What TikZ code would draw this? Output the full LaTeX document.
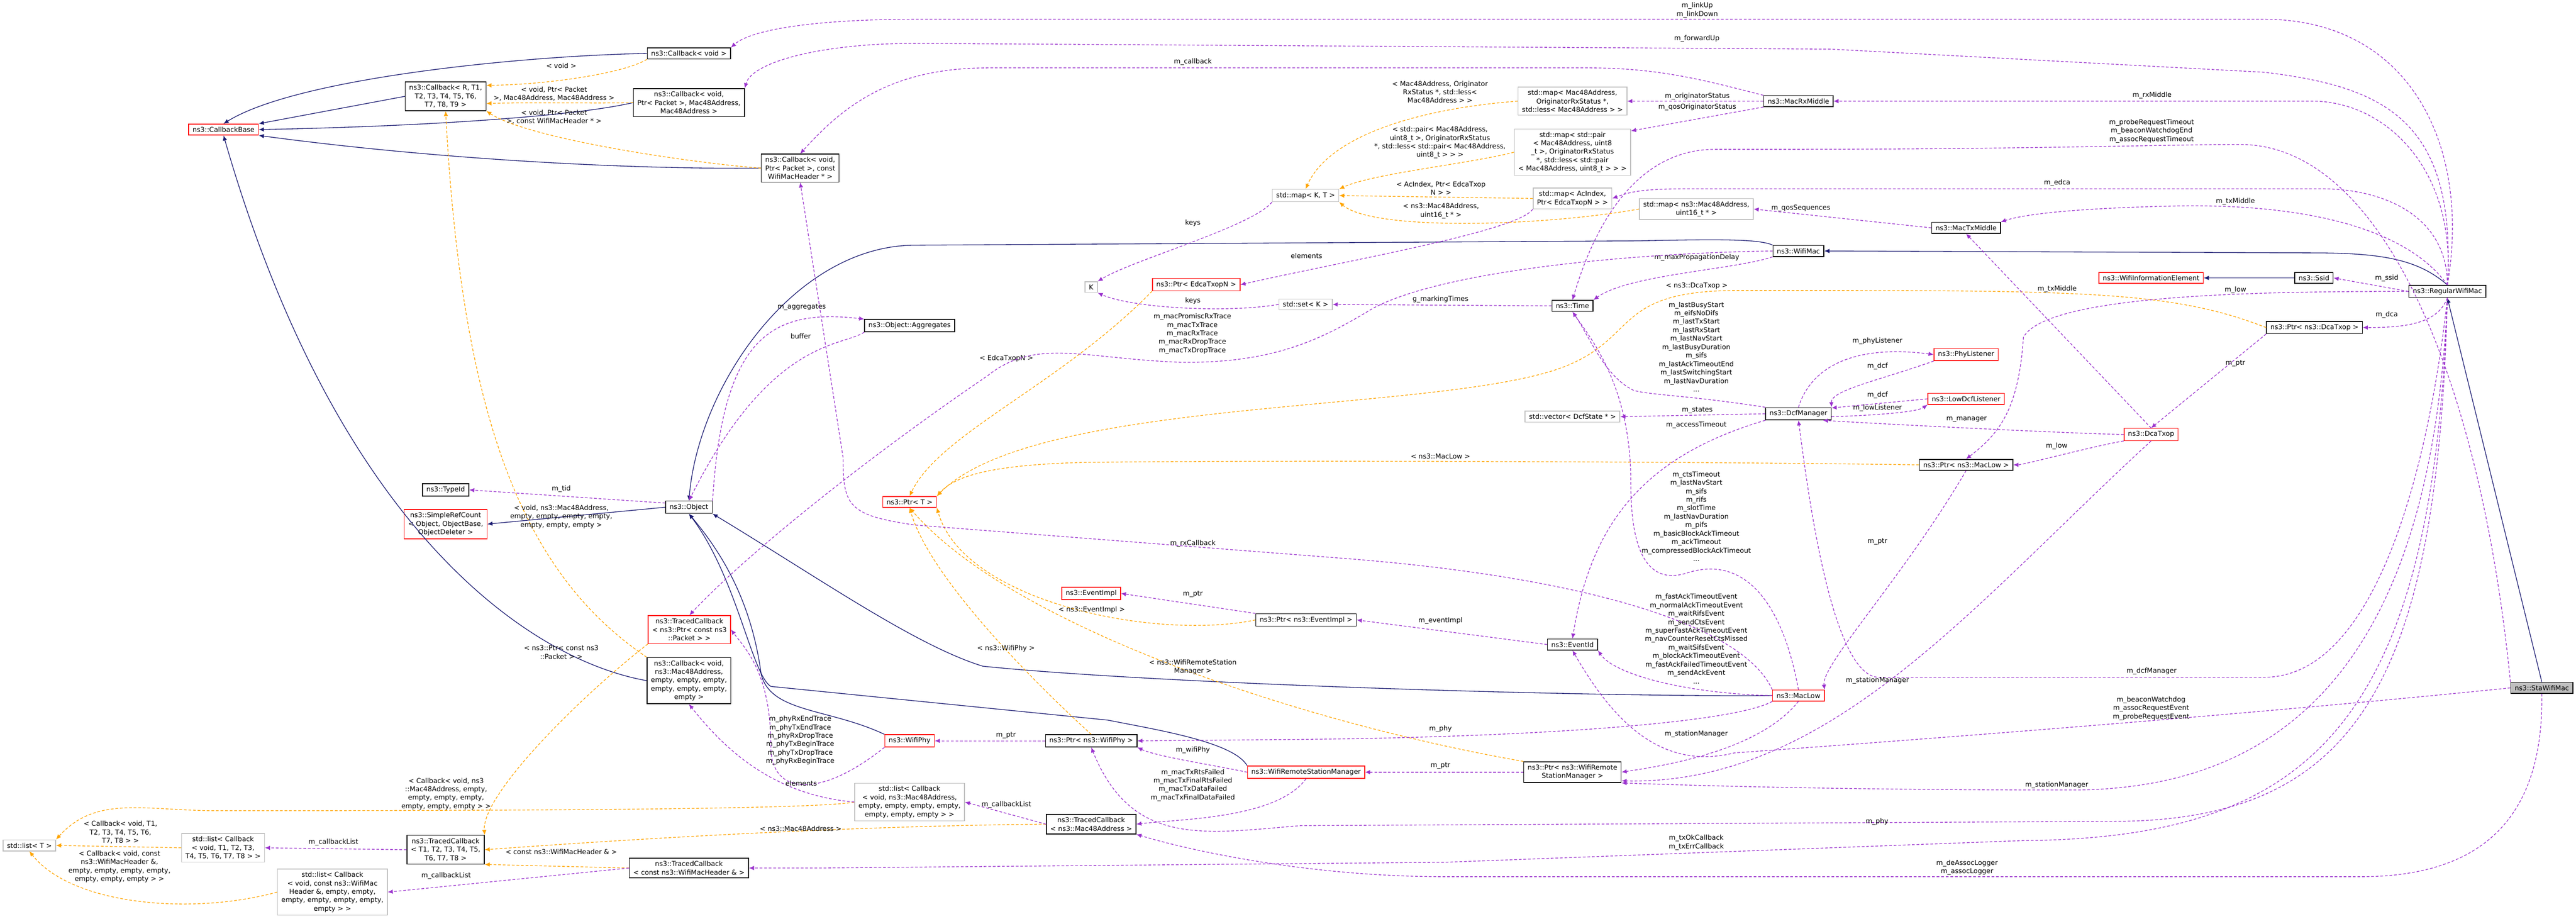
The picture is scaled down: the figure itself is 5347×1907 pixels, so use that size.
\documentclass[tikz,border=0pt]{standalone}
\usepackage{fontspec}
\setmainfont{DejaVu Sans}
\usetikzlibrary{arrows.meta}
\newcommand\lbl{\fontsize{4}{5}\selectfont}
\definecolor{navy}{HTML}{191970}
\definecolor{purp}{HTML}{9A32CD}
\definecolor{orng}{HTML}{FFA500}
\definecolor{gbox}{HTML}{BFBFBF}
\tikzset{
 box/.style={draw=black, line width=0.45pt, font=\lbl, align=center, inner xsep=2.3pt, inner ysep=1.7pt, fill=white},
 rbox/.style={box, draw=red},
 gbx/.style={box, draw=gbox},
 lab/.style={font=\lbl, align=center, inner sep=0pt},
 inh/.style={draw=navy, line width=0.4pt, -{Latex[length=3pt,width=2.6pt]}},
 use/.style={draw=purp, line width=0.4pt, dash pattern=on 1.6pt off 1.1pt, -{Latex[length=3pt,width=2.6pt]}},
 tpl/.style={draw=orng, line width=0.4pt, dash pattern=on 1.6pt off 1.1pt, -{Latex[length=3pt,width=2.6pt]}}
}
\begin{document}
\begin{tikzpicture}[x=0.01cm,y=-0.01cm]
\useasboundingbox (0,0) rectangle (5347,1907);
% nodes
\node[rbox] (cbb) at (464,269) {ns3::CallbackBase};
\node[box] (cbR) at (925,200) {ns3::Callback< R, T1,\\ T2, T3, T4, T5, T6,\\ T7, T8, T9 >};
\node[box] (cbv) at (1430,111) {ns3::Callback< void >};
\node[box] (cbpmm) at (1430,213) {ns3::Callback< void,\\ Ptr< Packet >, Mac48Address,\\ Mac48Address >};
\node[box] (cbpw) at (1661,349) {ns3::Callback< void,\\ Ptr< Packet >, const\\ WifiMacHeader * >};
\node[gbx] (mapo) at (3264,210) {std::map< Mac48Address,\\ OriginatorRxStatus *,\\ std::less< Mac48Address > >};
\node[gbx] (mapp) at (3264,316) {std::map< std::pair\\< Mac48Address, uint8\\\_t >, OriginatorRxStatus\\*, std::less< std::pair\\< Mac48Address, uint8\_t > > >};
\node[gbx] (mapkt) at (2710,406) {std::map< K, T >};
\node[gbx] (mapac) at (3264,412) {std::map< AcIndex,\\ Ptr< EdcaTxopN > >};
\node[gbx] (mapseq) at (3521,434) {std::map< ns3::Mac48Address,\\ uint16\_t * >};
\node[box] (rxm) at (3733,210) {ns3::MacRxMiddle};
\node[box] (wifimac) at (3733,521) {ns3::WifiMac};
\node[rbox] (ptredca) at (2483,591) {ns3::Ptr< EdcaTxopN >};
\node[gbx] (K) at (2265,596) {K};
\node[gbx] (setk) at (2710,632) {std::set< K >};
\node[box] (time) at (3264,635) {ns3::Time};
\node[box] (agg) at (1888,676) {ns3::Object::Aggregates};
\node[box] (txm) at (4081,473) {ns3::MacTxMiddle};
\node[rbox] (wie) at (4465,577) {ns3::WifiInformationElement};
\node[box] (ssid) at (4803,577) {ns3::Ssid};
\node[box] (rwm) at (5080,605) {ns3::RegularWifiMac};
\node[box] (ptrdca) at (4804,680) {ns3::Ptr< ns3::DcaTxop >};
\node[rbox] (phyl) at (4081,736) {ns3::PhyListener};
\node[rbox] (lowl) at (4081,828) {ns3::LowDcfListener};
\node[box] (dcfm) at (3733,859) {ns3::DcfManager};
\node[gbx] (vec) at (3264,865) {std::vector< DcfState * >};
\node[rbox] (dca) at (4465,902) {ns3::DcaTxop};
\node[box] (ptrml) at (4081,965) {ns3::Ptr< ns3::MacLow >};
\node[box] (typeid) at (925,1017) {ns3::TypeId};
\node[rbox] (src) at (925,1088) {ns3::SimpleRefCount\\< Object, ObjectBase,\\ ObjectDeleter >};
\node[box] (obj) at (1430,1053) {ns3::Object};
\node[rbox] (ptrT) at (1888,1042) {ns3::Ptr< T >};
\node[rbox] (eimpl) at (2265,1232) {ns3::EventImpl};
\node[box] (ptrei) at (2711,1287) {ns3::Ptr< ns3::EventImpl >};
\node[rbox] (tcpk) at (1431,1307) {ns3::TracedCallback\\< ns3::Ptr< const ns3\\::Packet > >};
\node[box] (eid) at (3264,1338) {ns3::EventId};
\node[box] (cbmac) at (1430,1413) {ns3::Callback< void,\\ ns3::Mac48Address,\\ empty, empty, empty,\\ empty, empty, empty,\\ empty >};
\node[box, fill=gbox] (stamac) at (5276,1428) {ns3::StaWifiMac};
\node[rbox] (maclow) at (3733,1444) {ns3::MacLow};
\node[rbox] (wphy) at (1888,1538) {ns3::WifiPhy};
\node[box] (ptrwp) at (2265,1538) {ns3::Ptr< ns3::WifiPhy >};
\node[rbox] (wrsm) at (2711,1603) {ns3::WifiRemoteStationManager};
\node[box] (ptrwrsm) at (3264,1603) {ns3::Ptr< ns3::WifiRemote\\StationManager >};
\node[gbx] (lstmac) at (1888,1665) {std::list< Callback\\< void, ns3::Mac48Address,\\ empty, empty, empty, empty,\\ empty, empty, empty > >};
\node[box] (tcmac) at (2265,1711) {ns3::TracedCallback\\< ns3::Mac48Address >};
\node[gbx] (lstT) at (61,1755) {std::list< T >};
\node[gbx] (lstT1) at (463,1760) {std::list< Callback\\< void, T1, T2, T3,\\ T4, T5, T6, T7, T8 > >};
\node[box] (tcT) at (925,1764) {ns3::TracedCallback\\< T1, T2, T3, T4, T5,\\ T6, T7, T8 >};
\node[box] (tchdr) at (1430,1802) {ns3::TracedCallback\\< const ns3::WifiMacHeader \& >};
\node[gbx] (lsthdr) at (690,1852) {std::list< Callback\\< void, const ns3::WifiMac\\Header \&, empty, empty,\\ empty, empty, empty, empty,\\ empty > >};

% inheritance
\draw[inh] (cbv.west) .. controls (1100,115) and (620,160) .. (cbb.north);
\draw[inh] (cbR.west) -- (cbb.north east);
\draw[inh] (cbpmm.west) .. controls (1200,240) and (900,262) .. (cbb.east);
\draw[inh] (cbpw.west) .. controls (1300,352) and (900,330) .. (cbb.south east);
\draw[inh] (cbmac.west) .. controls (1100,1370) and (700,1100) .. (cbb.south);
\draw[inh] (wifimac.north west) .. controls (3650,495) and (3550,497) .. (3400,500) -- (1900,509) .. controls (1650,509) and (1450,800) .. (obj.north);
\draw[inh] (rwm.north) .. controls (5020,540) and (4950,525) .. (4800,525) -- (wifimac.east);
\draw[inh] (stamac.north) -- (rwm.south);
\draw[inh] (ssid.west) -- (wie.east);
\draw[inh] (obj.west) -- (src.east);
\draw[inh] (wphy.north west) .. controls (1720,1470) and (1600,1480) .. (1580,1400) .. controls (1560,1250) and (1500,1150) .. (obj.south);
\draw[inh] (wrsm.north west) .. controls (2560,1540) and (2400,1515) .. (2300,1495) -- (1600,1425) .. controls (1560,1400) and (1530,1200) .. (obj.south);
\draw[inh] (maclow.west) .. controls (3300,1447) and (2400,1420) .. (2040,1383) .. controls (1900,1340) and (1700,1200) .. (obj.south east);

% templates
\draw[tpl] (cbv.south west) .. controls (1300,150) and (1150,175) .. (cbR.15);
\node[lab] (l1) at (1165,136) {< void >};
\draw[tpl] (cbpmm.west) .. controls (1250,215) and (1100,212) .. (cbR.-10);
\node[lab] (l2) at (1150,195) {< void, Ptr< Packet\\>, Mac48Address, Mac48Address >};
\draw[tpl] (cbpw.west) .. controls (1450,340) and (1100,290) .. (cbR.south east);
\node[lab] (l3) at (1150,243) {< void, Ptr< Packet\\>, const WifiMacHeader * >};
\draw[tpl] (cbmac.north west) .. controls (1100,1200) and (960,900) .. (cbR.south);
\node[lab] (l4) at (1165,1073) {< void, ns3::Mac48Address,\\empty, empty, empty, empty,\\empty, empty, empty >};
\draw[tpl] (mapo.west) .. controls (2950,225) and (2760,280) .. (mapkt.north);
\node[lab] (l5) at (2989,191) {< Mac48Address, Originator\\RxStatus *, std::less<\\Mac48Address > >};
\draw[tpl] (mapp.west) .. controls (3050,340) and (2850,360) .. (mapkt.north east);
\node[lab] (l6) at (2989,296) {< std::pair< Mac48Address,\\uint8\_t >, OriginatorRxStatus\\*, std::less< std::pair< Mac48Address,\\uint8\_t > > >};
\draw[tpl] (mapac.west) -- (mapkt.east);
\node[lab] (l7) at (2991,391) {< AcIndex, Ptr< EdcaTxop\\N > >};
\draw[tpl] (mapseq.west) .. controls (3200,470) and (2850,480) .. (mapkt.south east);
\node[lab] (l8) at (2991,438) {< ns3::Mac48Address,\\uint16\_t * >};
\draw[tpl] (ptredca.south west) .. controls (2200,800) and (1950,900) .. (ptrT.north);
\node[lab] (l9) at (2089,744) {< EdcaTxopN >};
\draw[tpl] (ptrdca.west) .. controls (4500,600) and (4300,603) .. (3600,603) .. controls (3350,605) and (3400,700) .. (3250,760) .. controls (3000,860) and (2150,820) .. (ptrT.north east);
\node[lab] (l10) at (3522,594) {< ns3::DcaTxop >};
\draw[tpl] (ptrml.west) .. controls (3500,958) and (2600,955) .. (2250,960) .. controls (2050,965) and (1980,990) .. (ptrT.north east);
\node[lab] (l11) at (2990,947) {< ns3::MacLow >};
\draw[tpl] (ptrei.west) .. controls (2400,1330) and (2000,1250) .. (ptrT.south east);
\node[lab] (l12) at (2266,1266) {< ns3::EventImpl >};
\draw[tpl] (ptrwp.north) .. controls (2150,1420) and (1930,1200) .. (ptrT.south);
\node[lab] (l13) at (2088,1346) {< ns3::WifiPhy >};
\draw[tpl] (ptrwrsm.north west) .. controls (2700,1500) and (2100,1300) .. (ptrT.south);
\node[lab] (l14) at (2476,1385) {< ns3::WifiRemoteStation\\Manager >};
\draw[tpl] (tcpk.south west) .. controls (1200,1450) and (1000,1650) .. (tcT.north east);
\node[lab] (l15) at (1165,1354) {< ns3::Ptr< const ns3\\::Packet > >};
\draw[tpl] (tcmac.west) .. controls (1700,1715) and (1200,1750) .. (tcT.east);
\node[lab] (l16) at (1662,1720) {< ns3::Mac48Address >};
\draw[tpl] (tchdr.west) -- (tcT.south east);
\node[lab] (l17) at (1165,1768) {< const ns3::WifiMacHeader \& >};
\draw[tpl] (lstT1.west) -- (lstT.east);
\node[lab] (l18) at (250,1728) {< Callback< void, T1,\\T2, T3, T4, T5, T6,\\T7, T8 > >};
\draw[tpl] (lstmac.west) .. controls (1700,1680) and (1100,1683) .. (450,1683) .. controls (300,1683) and (200,1650) .. (lstT.north east);
\node[lab] (l19) at (926,1648) {< Callback< void, ns3\\::Mac48Address, empty,\\empty, empty, empty,\\empty, empty, empty > >};
\draw[tpl] (lsthdr.west) .. controls (400,1900) and (150,1880) .. (lstT.south);
\node[lab] (l20) at (248,1799) {< Callback< void, const\\ns3::WifiMacHeader \&,\\empty, empty, empty, empty,\\empty, empty, empty > >};

% usage
\draw[use] (rwm.north) .. controls (5130,300) and (5000,40) .. (4700,40) -- (1900,40) .. controls (1700,40) and (1560,60) .. (cbv.north east);
\node[lab] (u1) at (3523,21) {m\_linkUp\\m\_linkDown};
\draw[use] (rwm.north) .. controls (5100,250) and (4950,180) .. (4700,150) -- (3800,102) -- (1900,90) .. controls (1700,90) and (1560,130) .. (cbpmm.north east);
\node[lab] (u2) at (3522,80) {m\_forwardUp};
\draw[use] (rxm.north west) .. controls (3550,170) and (3450,141) .. (3300,141) -- (2050,141) .. controls (1850,141) and (1750,220) .. (cbpw.north);
\node[lab] (u3) at (2476,128) {m\_callback};
\draw[use] (rxm.west) -- (mapo.east);
\node[lab] (u4) at (3523,200) {m\_originatorStatus};
\draw[use] (rxm.south west) -- (mapp.20);
\node[lab] (u5) at (3523,223) {m\_qosOriginatorStatus};
\draw[use] (rwm.north) .. controls (5100,350) and (4950,210) .. (4800,210) -- (rxm.east);
\node[lab] (u6) at (4467,198) {m\_rxMiddle};
\draw[use] (stamac.north west) .. controls (5150,800) and (4950,300) .. (4650,300) .. controls (4500,300) and (4200,310) .. (3700,310) -- (3560,310) .. controls (3380,310) and (3300,500) .. (time.north);
\node[lab] (u7) at (4466,272) {m\_probeRequestTimeout\\m\_beaconWatchdogEnd\\m\_assocRequestTimeout};
\draw[use] (rwm.north) .. controls (5080,450) and (4950,392) .. (4820,392) -- (3500,392) .. controls (3400,392) and (3380,400) .. (mapac.east);
\node[lab] (u8) at (4270,380) {m\_edca};
\draw[use] (txm.west) -- (mapseq.east);
\node[lab] (u9) at (3738,432) {m\_qosSequences};
\draw[use] (rwm.north) .. controls (5000,480) and (4800,420) .. (4500,428) .. controls (4300,433) and (4200,445) .. (txm.north east);
\node[lab] (u10) at (4640,418) {m\_txMiddle};
\draw[use] (dca.north) -- (txm.south);
\node[lab] (u11) at (4270,600) {m\_txMiddle};
\draw[use] (wifimac.south west) .. controls (3600,560) and (3380,570) .. (time.north east);
\node[lab] (u12) at (3522,535) {m\_maxPropagationDelay};
\draw[use] (wifimac.west) .. controls (3400,525) and (3000,560) .. (2850,640) .. controls (2750,700) and (2650,755) .. (2450,752) .. controls (2250,745) and (2150,700) .. (2050,780) .. controls (1800,950) and (1550,1150) .. (tcpk.north);
\node[lab] (u13) at (2475,693) {m\_macPromiscRxTrace\\m\_macTxTrace\\m\_macRxTrace\\m\_macRxDropTrace\\m\_macTxDropTrace};
\draw[use] (obj.north east) .. controls (1500,700) and (1600,640) .. (agg.north west);
\node[lab] (u14) at (1664,638) {m\_aggregates};
\draw[use] (agg.south west) .. controls (1750,720) and (1600,700) .. (obj.north);
\node[lab] (u15) at (1662,698) {buffer};
\draw[use] (maclow.north west) .. controls (3620,1300) and (3300,1200) .. (2800,1160) -- (1900,1090) .. controls (1760,1070) and (1750,1050) .. (1750,950) -- (cbpw.south);
\node[lab] (u16) at (2476,1128) {m\_rxCallback};
\draw[use] (obj.170) -- (typeid.east);
\node[lab] (u17) at (1165,1015) {m\_tid};
\draw[use] (time.west) -- (setk.east);
\node[lab] (u18) at (2990,621) {g\_markingTimes};
\draw[use] (mapkt.south west) .. controls (2600,470) and (2350,540) .. (K.north east);
\node[lab] (u19) at (2476,463) {keys};
\draw[use] (setk.west) .. controls (2550,650) and (2350,640) .. (K.south east);
\node[lab] (u20) at (2476,624) {keys};
\draw[use] (mapac.south west) .. controls (3150,480) and (2800,540) .. (ptredca.east);
\node[lab] (u21) at (2712,531) {elements};
\draw[use] (rwm.west) -- (ssid.east);
\node[lab] (u22) at (4954,578) {m\_ssid};
\draw[use] (rwm.west) .. controls (4700,605) and (4250,610) .. (4200,700) .. controls (4190,850) and (4150,900) .. (ptrml.north);
\node[lab] (u23) at (4640,602) {m\_low};
\draw[use] (dca.south west) .. controls (4350,925) and (4200,965) .. (ptrml.east);
\node[lab] (u24) at (4269,926) {m\_low};
\draw[use] (rwm.south) .. controls (5060,670) and (5000,680) .. (ptrdca.east);
\node[lab] (u25) at (4954,654) {m\_dca};
\draw[use] (ptrdca.south west) -- (dca.north);
\node[lab] (u26) at (4640,754) {m\_ptr};
\draw[use] (dcfm.north west) .. controls (3500,820) and (3420,820) .. (3390,810) .. controls (3330,780) and (3300,700) .. (time.south);
\node[lab] (u27) at (3521,720) {m\_lastBusyStart\\m\_eifsNoDifs\\m\_lastTxStart\\m\_lastRxStart\\m\_lastNavStart\\m\_lastBusyDuration\\m\_sifs\\m\_lastAckTimeoutEnd\\m\_lastSwitchingStart\\m\_lastNavDuration\\...};
\draw[use] (dcfm.north) .. controls (3760,760) and (3850,715) .. (phyl.west);
\node[lab] (u28) at (3897,708) {m\_phyListener};
\draw[use] (phyl.south west) .. controls (3900,790) and (3800,810) .. (dcfm.north east);
\node[lab] (u29) at (3897,760) {m\_dcf};
\draw[use] (lowl.west) -- (dcfm.10);
\node[lab] (u30) at (3897,820) {m\_dcf};
\draw[use] (dcfm.-5) .. controls (3900,862) and (3980,855) .. (lowl.south west);
\node[lab] (u31) at (3897,847) {m\_lowListener};
\draw[use] (dcfm.west) -- (vec.east);
\node[lab] (u32) at (3523,852) {m\_states};
\draw[use] (dcfm.south west) .. controls (3400,950) and (3300,1100) .. (eid.north);
\node[lab] (u33) at (3521,882) {m\_accessTimeout};
\draw[use] (dca.west) .. controls (4300,900) and (3900,880) .. (dcfm.-15);
\node[lab] (u34) at (4082,871) {m\_manager};
\draw[use] (rwm.south) .. controls (5050,900) and (4950,1406) .. (4700,1406) -- (3900,1406) .. controls (3800,1406) and (3750,1000) .. (dcfm.south);
\node[lab] (u35) at (4466,1394) {m\_dcfManager};
\draw[use] (ptrml.south) .. controls (3950,1200) and (3780,1380) .. (maclow.north east);
\node[lab] (u36) at (3897,1124) {m\_ptr};
\draw[use] (maclow.north) .. controls (3700,1250) and (3620,1150) .. (3500,1190) .. controls (3400,1220) and (3385,1100) .. (3385,1000) .. controls (3385,800) and (3300,700) .. (time.south);
\node[lab] (u37) at (3521,1072) {m\_ctsTimeout\\m\_lastNavStart\\m\_sifs\\m\_rifs\\m\_slotTime\\m\_lastNavDuration\\m\_pifs\\m\_basicBlockAckTimeout\\m\_ackTimeout\\m\_compressedBlockAckTimeout\\...};
\draw[use] (maclow.west) .. controls (3500,1440) and (3350,1400) .. (eid.south east);
\node[lab] (u38) at (3521,1326) {m\_fastAckTimeoutEvent\\m\_normalAckTimeoutEvent\\m\_waitRifsEvent\\m\_sendCtsEvent\\m\_superFastAckTimeoutEvent\\m\_navCounterResetCtsMissed\\m\_waitSifsEvent\\m\_blockAckTimeoutEvent\\m\_fastAckFailedTimeoutEvent\\m\_sendAckEvent\\...};
\draw[use] (eid.west) -- (ptrei.east);
\node[lab] (u39) at (2990,1289) {m\_eventImpl};
\draw[use] (ptrei.north west) -- (eimpl.east);
\node[lab] (u40) at (2476,1234) {m\_ptr};
\draw[use] (maclow.south west) .. controls (3600,1500) and (3200,1530) .. (2700,1535) -- (ptrwp.east);
\node[lab] (u41) at (2990,1513) {m\_phy};
\draw[use] (maclow.south) .. controls (3650,1560) and (3450,1590) .. (ptrwrsm.east);
\node[lab] (u42) at (3521,1524) {m\_stationManager};
\draw[use] (dca.south) .. controls (4100,1250) and (3800,1630) .. (ptrwrsm.-10);
\node[lab] (u43) at (3897,1413) {m\_stationManager};
\draw[use] (rwm.south) .. controls (5050,1300) and (4800,1640) .. (4300,1640) .. controls (3800,1640) and (3500,1630) .. (ptrwrsm.south east);
\node[lab] (u44) at (4269,1630) {m\_stationManager};
\draw[use] (ptrwrsm.west) -- (wrsm.east);
\node[lab] (u45) at (2990,1590) {m\_ptr};
\draw[use] (rwm.south) .. controls (5060,1400) and (4900,1700) .. (4400,1705) -- (2700,1714) .. controls (2500,1730) and (2350,1760) .. (ptrwp.south);
\node[lab] (u46) at (3896,1706) {m\_phy};
\draw[use] (rwm.south) .. controls (5050,1500) and (4800,1740) .. (4200,1745) -- (3000,1790) -- (1700,1802) -- (tchdr.east);
\node[lab] (u47) at (3521,1749) {m\_txOkCallback\\m\_txErrCallback};
\draw[use] (stamac.south) .. controls (5280,1700) and (5150,1820) .. (4900,1820) -- (3000,1820) .. controls (2700,1820) and (2450,1760) .. (tcmac.south east);
\node[lab] (u48) at (4083,1801) {m\_deAssocLogger\\m\_assocLogger};
\draw[use] (stamac.west) .. controls (4800,1470) and (4200,1520) .. (3600,1563) .. controls (3450,1600) and (3350,1500) .. (eid.south);
\node[lab] (u49) at (4465,1471) {m\_beaconWatchdog\\m\_assocRequestEvent\\m\_probeRequestEvent};
\draw[use] (wphy.south west) .. controls (1700,1660) and (1600,1650) .. (1600,1550) .. controls (1600,1400) and (1550,1350) .. (tcpk.east);
\node[lab] (u50) at (1661,1537) {m\_phyRxEndTrace\\m\_phyTxEndTrace\\m\_phyRxDropTrace\\m\_phyTxBeginTrace\\m\_phyTxDropTrace\\m\_phyRxBeginTrace};
\draw[use] (ptrwp.west) -- (wphy.east);
\node[lab] (u51) at (2088,1526) {m\_ptr};
\draw[use] (wrsm.west) .. controls (2500,1585) and (2400,1570) .. (ptrwp.south east);
\node[lab] (u52) at (2476,1557) {m\_wifiPhy};
\draw[use] (wrsm.south) .. controls (2650,1700) and (2450,1700) .. (tcmac.east);
\node[lab] (u53) at (2476,1630) {m\_macTxRtsFailed\\m\_macTxFinalRtsFailed\\m\_macTxDataFailed\\m\_macTxFinalDataFailed};
\draw[use] (tcmac.west) -- (lstmac.east);
\node[lab] (u54) at (2089,1670) {m\_callbackList};
\draw[use] (lstmac.west) .. controls (1600,1650) and (1500,1550) .. (cbmac.south);
\node[lab] (u55) at (1663,1626) {elements};
\draw[use] (tcT.west) -- (lstT1.east);
\node[lab] (u56) at (692,1748) {m\_callbackList};
\draw[use] (tchdr.west) -- (lsthdr.east);
\node[lab] (u57) at (926,1818) {m\_callbackList};
\end{tikzpicture}
\end{document}
